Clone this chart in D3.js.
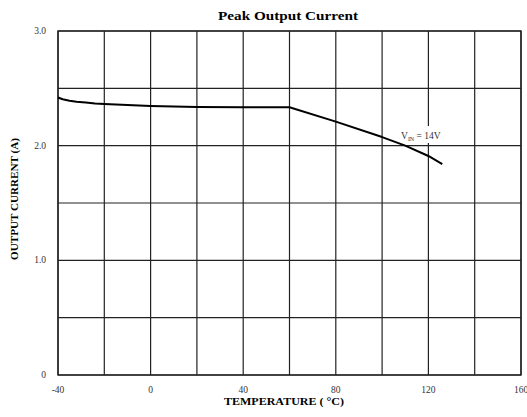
<!DOCTYPE html>
<html>
<head>
<meta charset="utf-8">
<script src="https://cdn.jsdelivr.net/npm/d3@7"></script>
<style>
html,body{margin:0;padding:0;background:#fff;}
svg text{font-family:"Liberation Serif","DejaVu Serif",serif;}
</style>
</head>
<body>
<svg id="chart" width="527" height="417" style="display:block"></svg>
<script>
const temperatures = [-40, -38, -35, -32, -28, -24, -20, -10, 0, 20, 40, 60, 80, 100, 110, 120, 126];
const currents     = [2.42, 2.405, 2.392, 2.384, 2.376, 2.368, 2.363, 2.354, 2.347, 2.338, 2.335, 2.335, 2.21, 2.075, 2.0, 1.91, 1.84];
const xTicks = [-40, 0, 40, 80, 120, 160];
const xGrid = [-40, -20, 0, 20, 40, 60, 80, 100, 120, 140, 160];
const yTicks = [0, 1, 2, 3];
const yTickLabels = ["0", "1.0", "2.0", "3.0"];
const yGrid = [0, 0.5, 1, 1.5, 2, 2.5, 3];

const svg = d3.select("#chart");
const x = d3.scaleLinear().domain([-40, 160]).range([58, 521]);
const y = d3.scaleLinear().domain([0, 3]).range([375, 31]);
const FONT = "'Liberation Serif','DejaVu Serif',serif";

// grid
svg.append("g").selectAll("line").data(xGrid).join("line")
  .attr("x1", d => x(d)).attr("x2", d => x(d))
  .attr("y1", y(0)).attr("y2", y(3))
  .attr("stroke", "#222").attr("stroke-width", 1.2);
svg.append("g").selectAll("line").data(yGrid).join("line")
  .attr("x1", x(-40)).attr("x2", x(160))
  .attr("y1", d => y(d)).attr("y2", d => y(d))
  .attr("stroke", "#222").attr("stroke-width", 1.2);
svg.append("rect").attr("x", x(-40)).attr("y", y(3))
  .attr("width", x(160) - x(-40)).attr("height", y(0) - y(3))
  .attr("fill", "none").attr("stroke", "#222").attr("stroke-width", 1.4);

// label background
const lbl = svg.append("g");
lbl.append("rect").attr("x", 399).attr("y", 126).attr("width", 47).attr("height", 17).attr("fill", "#fff");

// curve
const data = temperatures.map((t, i) => ({t, v: currents[i]}));
svg.append("path").datum(data)
  .attr("d", d3.line().x(d => x(d.t)).y(d => y(d.v)).curve(d3.curveLinear))
  .attr("fill", "none").attr("stroke", "#000").attr("stroke-width", 2)
  .attr("stroke-linejoin", "round");

const t = lbl.append("text").attr("x", 401).attr("y", 139)
  .attr("font-family", FONT).attr("font-size", 9.5).attr("fill", "#333");
t.append("tspan").text("V");
t.append("tspan").text("IN").attr("font-size", 6).attr("dy", 1.5);
t.append("tspan").text(" = 14V").attr("dy", -1.5);

// tick labels
svg.append("g").selectAll("text").data(xTicks).join("text")
  .attr("x", d => x(d)).attr("y", 393)
  .attr("font-family", FONT)
  .attr("text-anchor", "middle").attr("font-size", 9.5).attr("fill", "#333")
  .text(d => d);
svg.append("g").selectAll("text").data(yTicks).join("text")
  .attr("x", 46).attr("y", d => y(d) + 3)
  .attr("font-family", FONT)
  .attr("text-anchor", "end").attr("font-size", 9.5).attr("fill", "#333")
  .text((d, i) => yTickLabels[i]);

// titles
svg.append("text").attr("x", 288).attr("y", 20).attr("text-anchor", "middle")
  .attr("font-family", FONT).attr("textLength", 140).attr("lengthAdjust", "spacingAndGlyphs")
  .attr("font-size", 12.5).attr("font-weight", "bold").text("Peak Output Current");
svg.append("text").attr("x", 284).attr("y", 405).attr("text-anchor", "middle")
  .attr("font-family", FONT).attr("textLength", 120).attr("lengthAdjust", "spacingAndGlyphs")
  .attr("font-size", 10.5).attr("font-weight", "bold").text("TEMPERATURE ( °C)");
svg.append("text").attr("transform", "translate(18,199) rotate(-90)").attr("text-anchor", "middle")
  .attr("font-family", FONT).attr("textLength", 122).attr("lengthAdjust", "spacingAndGlyphs")
  .attr("font-size", 10.5).attr("font-weight", "bold").text("OUTPUT CURRENT (A)");
</script>
</body>
</html>
